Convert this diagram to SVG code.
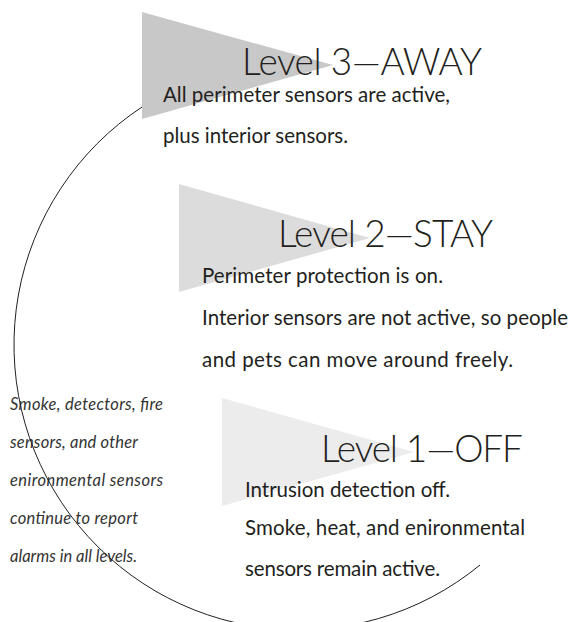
<svg xmlns="http://www.w3.org/2000/svg" width="572" height="622" viewBox="0 0 572 622">
<style>
.title{font-family:Lato,"Open Sans","Noto Sans",sans-serif;font-size:37px;font-weight:300;fill:#231f20}
.body{font-family:Lato,"Open Sans","Noto Sans",sans-serif;font-size:20.5px;fill:#231f20}
.note{font-family:Lato,"Open Sans","Noto Sans",sans-serif;font-size:16.5px;font-style:italic;fill:#333}
.arc{fill:none;stroke:#231f20;stroke-width:1}
</style>
<rect width="572" height="622" fill="#fff"/>
<g id="level3">
<polygon points="142,12 333,65 142,119" fill="#c8c8c8"/>
<text class="title" x="242" y="75" textLength="240">Level 3—AWAY</text>
<text class="body" x="163" y="102" textLength="287">All perimeter sensors are active,</text>
<text class="body" x="163" y="143" textLength="185">plus interior sensors.</text>
</g>
<g id="level2">
<polygon points="179,184 370,238 179,292" fill="#dcdcdc"/>
<text class="title" x="278" y="247" textLength="215">Level 2—STAY</text>
<text class="body" x="202" y="283" textLength="241">Perimeter protection is on.</text>
<text class="body" x="202" y="325" textLength="366">Interior sensors are not active, so people</text>
<text class="body" x="202" y="367" textLength="311">and pets can move around freely.</text>
</g>
<g id="level1">
<polygon points="222,398 414,452 222,506" fill="#ececec"/>
<text class="title" x="321" y="462" textLength="202">Level 1—OFF</text>
<text class="body" x="245" y="497" textLength="205">Intrusion detection off.</text>
<text class="body" x="245" y="535" textLength="280">Smoke, heat, and enironmental</text>
<text class="body" x="245" y="576" textLength="195">sensors remain active.</text>
</g>
<g id="note">
<text class="note" x="10" y="410" textLength="153">Smoke, detectors, fire</text>
<text class="note" x="10" y="448" textLength="128">sensors, and other</text>
<text class="note" x="10" y="486" textLength="153">enironmental sensors</text>
<text class="note" x="10" y="524" textLength="128">continue to report</text>
<text class="note" x="10" y="562" textLength="127">alarms in all levels.</text>
</g>
<g id="connectors">
<path class="arc" d="M142,107 A285,285 0 1 0 480,565"/>
</g>
</svg>
